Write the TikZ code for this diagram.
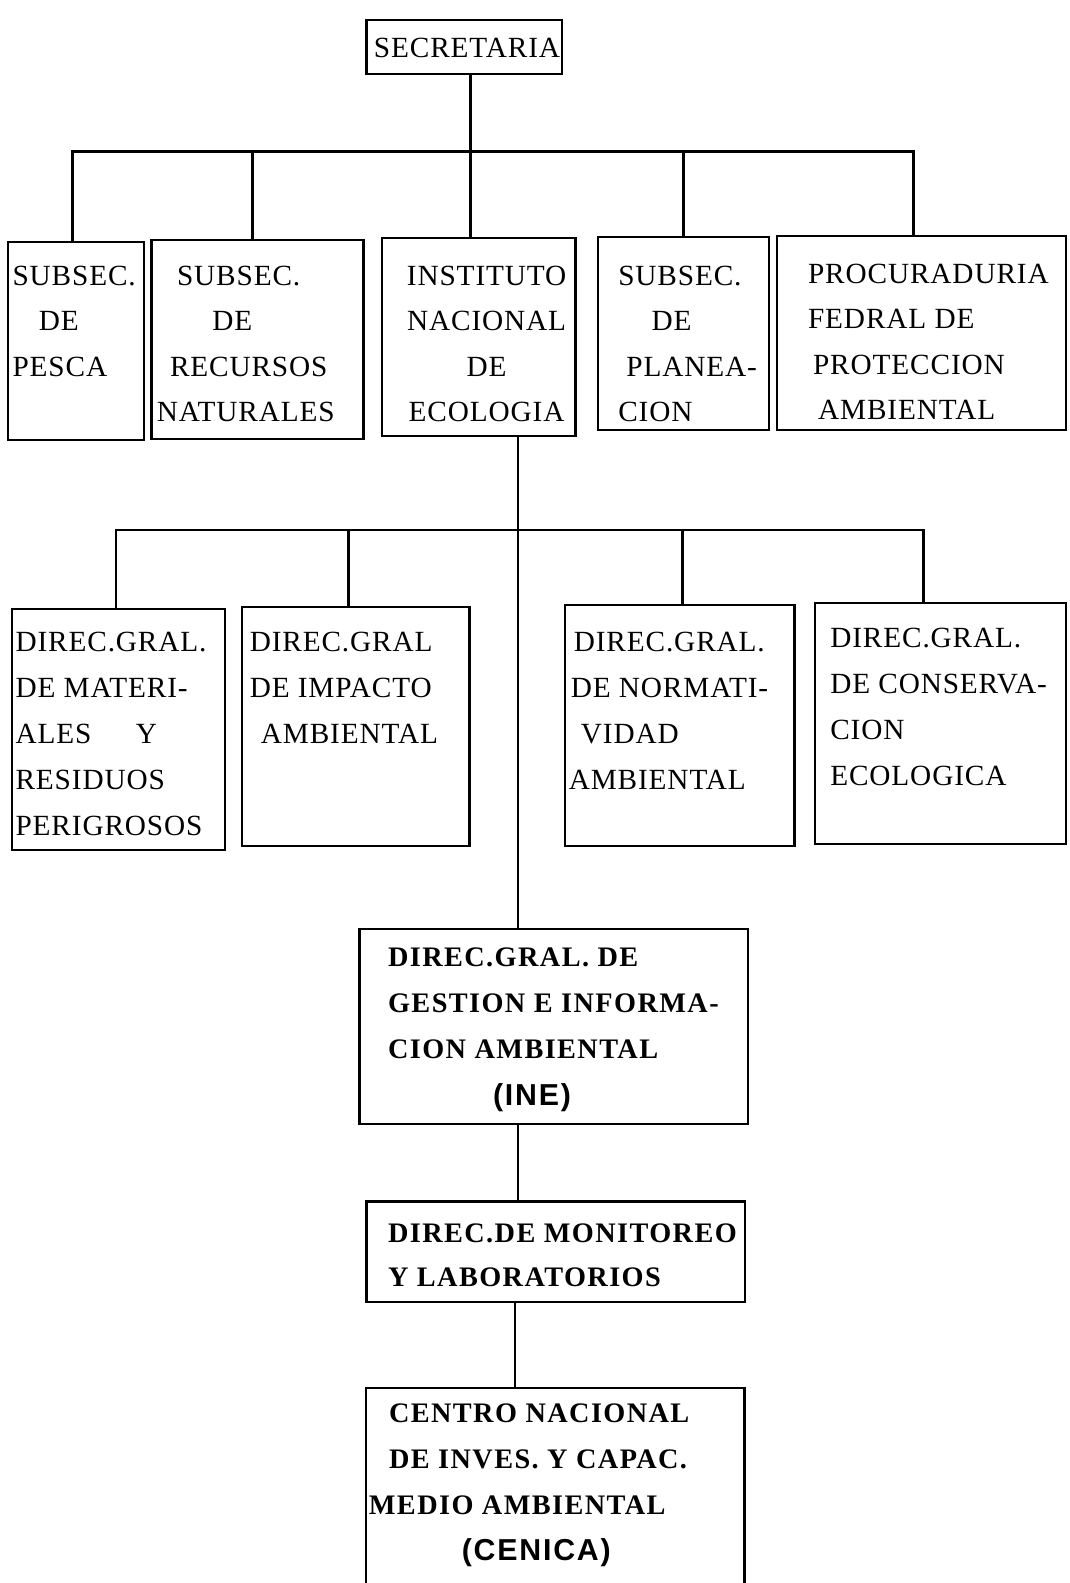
\documentclass[tikz,border=0pt]{standalone}
\usepackage{fontspec}
\setmainfont{Liberation Serif}
\newfontfamily\upfont[LetterSpace=3]{Liberation Serif}
\newfontfamily\lowfont[LetterSpace=5]{Liberation Serif}
\newfontfamily\parfont[LetterSpace=6]{Liberation Sans}
\usetikzlibrary{fit}
\tikzset{
  box/.style={draw, line width=1.1pt, inner sep=0pt},
  frame/.style={line width=1.1pt},
  link/.style={line width=1.3pt},
  up/.style={font=\upfont\fontsize{14.5}{22.5}\selectfont, align=left, inner sep=0pt, anchor=north west},
  uptwo/.style={font=\upfont\fontsize{14.5}{22.75}\selectfont, align=left, inner sep=0pt, anchor=north west},
  low/.style={font=\lowfont\bfseries\fontsize{14}{23}\selectfont, align=left, inner sep=0pt, anchor=north west}
}
\begin{document}
\begin{tikzpicture}[x=0.5pt,y=-0.5pt]
\useasboundingbox (0,0) rectangle (1059,1568);
\fill[white] (0,0) rectangle (1059,1568);

% boxes
\node[box, fit={(363,20)(557,73)}] (sec) {};
\node[box, fit={(8,240)(143,436)}] (pesca) {};
\node[box, fit={(150,238)(360,435)}] (recur) {};
\node[box, fit={(378,236)(570,432)}] (inst) {};
\node[box, fit={(592,235)(762,426)}] (plan) {};
\node[box, fit={(770,234)(1056,426)}] (procu) {};
\node[box, fit={(12,603)(223,842)}] (mat) {};
\node[box, fit={(240,601)(465,838)}] (imp) {};
\node[box, fit={(560,599)(787,838)}] (norm) {};
\node[box, fit={(807,597)(1056,836)}] (cons) {};
\node[box, fit={(356,920)(741,1113)}] (ine) {};
\node[box, fit={(363,1190)(738,1290)}] (mon) {};
\node[inner sep=0pt, fit={(363,1375)(737,1585)}] (cen) {};
\draw[frame] (cen.south west) -- (cen.north west) -- (cen.north east) -- (cen.south east);

% connectors
\coordinate (bar1) at (0,150);
\coordinate (bar2) at (0,525);
\draw[link] ([xshift=3pt]sec.south) -- ([xshift=3pt]sec.south |- inst.north);
\draw[link] ([xshift=-1.75pt]pesca.north) |- ([xshift=-4pt]procu.north |- bar1) -- ([xshift=-4pt]procu.north);
\draw[link] ([xshift=-2.5pt]recur.north) -- ([xshift=-2.5pt]recur.north |- bar1);
\draw[link] (plan.north) -- (plan.north |- bar1);
\draw[link] ([xshift=68pt]inst.south west) -- ([xshift=68pt]inst.south west |- ine.north);
\draw[link] ([xshift=-1.25pt]mat.north) |- ([xshift=-8.25pt]cons.north |- bar2) -- ([xshift=-8.25pt]cons.north);
\draw[link] ([xshift=-3.75pt]imp.north) -- ([xshift=-3.75pt]imp.north |- bar2);
\draw[link] ([xshift=1.25pt]norm.north) -- ([xshift=1.25pt]norm.north |- bar2);
\draw[link] ([xshift=-17.75pt]ine.south) -- ([xshift=-17.75pt]ine.south |- mon.north);
\draw[link] ([xshift=-20.25pt]mon.south) -- ([xshift=-20.25pt]mon.south |- cen.north);

% texts
\node[up] (sec-t) at (370,37) {SECRETARIA};
\node[up] (pesca-t) at (12,263) {SUBSEC.\\\hspace*{13pt}DE\\PESCA};
\node[up] (recur-t) at (155,263) {\hspace*{10pt}SUBSEC.\\\hspace*{27.5pt}DE\\\hspace*{6.5pt}RECURSOS\\NATURALES};
\node[up, align=center, anchor=north] (inst-t) at (482,263) {INSTITUTO\\NACIONAL\\DE\\ECOLOGIA};
\node[up] (plan-t) at (612,263) {SUBSEC.\\\hspace*{16.5pt}DE\\\hspace*{4pt}PLANEA-\\CION};
\node[up] (procu-t) at (800,261) {PROCURADURIA\\FEDRAL DE\\\hspace*{2.5pt}PROTECCION\\\hspace*{5pt}AMBIENTAL};

\node[uptwo] (mat-t) at (15,626) {DIREC.GRAL.\\DE MATERI-\\ALES\hspace{22pt}Y\\RESIDUOS\\PERIGROSOS};
\node[uptwo] (imp-t) at (247,626) {DIREC.GRAL\\DE IMPACTO\\\hspace*{5.5pt}AMBIENTAL};
\node[uptwo] (norm-t) at (563,626) {\hspace*{2.5pt}DIREC.GRAL.\\\hspace*{1pt}DE NORMATI-\\\hspace*{6pt}VIDAD\\AMBIENTAL};
\node[uptwo] (cons-t) at (822,622) {DIREC.GRAL.\\DE CONSERVA-\\CION\\ECOLOGICA};

\node[low] (ine-t) at (384,938) {DIREC.GRAL. DE\\GESTION E INFORMA-\\CION AMBIENTAL\\\hspace*{52pt}{\parfont\bfseries\fontsize{15}{23}\selectfont (INE)}};
\node[low, font=\lowfont\bfseries\fontsize{14}{21.5}\selectfont] (mon-t) at (384,1212) {DIREC.DE MONITOREO\\Y LABORATORIOS};
\node[low, font=\lowfont\bfseries\fontsize{14}{22.8}\selectfont] (cen-t) at (365,1390) {\hspace*{10pt}CENTRO NACIONAL\\\hspace*{10pt}DE INVES. Y CAPAC.\\MEDIO AMBIENTAL\\\hspace*{46pt}{\parfont\bfseries\fontsize{15}{23}\selectfont (CENICA)}};
\end{tikzpicture}
\end{document}
